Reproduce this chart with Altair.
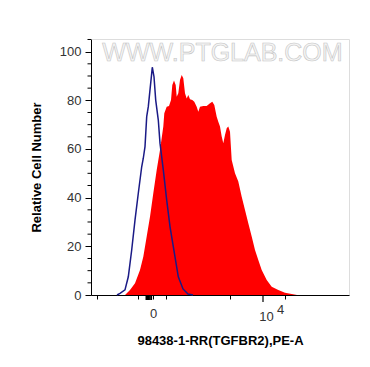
import altair as alt
import pandas as pd

# blue control histogram (display channel units, relative cell number)
blue_x = [26, 29, 34, 37.3, 40.7, 44, 47.3, 50.7, 52.3, 54, 55.7, 57.3, 59, 60.7, 61.3, 63, 64.7, 67.3, 69, 72.3, 75.7, 79, 84, 87.3, 92, 97, 102]
blue_y = [0, 0.7, 2.1, 7.5, 18.5, 30.8, 41.8, 52.7, 56.2, 61, 73.3, 77.4, 84.3, 91.1, 93.6, 89.7, 80.1, 71.9, 62.4, 51.4, 39, 28.1, 15.7, 7.5, 2.5, 0.4, 0]

# red stained histogram
red_x = [34, 39, 44, 49, 52.3, 55.7, 59, 62.3, 65.7, 69, 72.3, 73.3, 75.7, 78, 80, 81.3, 83, 84.7, 85.7, 87.3, 89, 90.7, 92.3, 94, 95.7, 97.3, 99, 101.3, 103.3, 105.7, 107.3, 109, 112.3, 115.7, 119, 121.3, 123.3, 125.7, 127.3, 129, 130.7, 132.3, 134, 135.7, 137.3, 139, 140.7, 144, 147.3, 150.7, 154, 157.3, 160.7, 164, 167.3, 170.7, 175.7, 180.7, 187.3, 194, 200.7, 206]
red_y = [0, 2.1, 4.8, 10.3, 15.7, 24, 32.2, 41.8, 51.4, 59.6, 69.2, 74.7, 77.4, 77.7, 80.1, 86.3, 88.1, 86.3, 81.5, 82.9, 88.4, 90.4, 89.1, 82.9, 80.8, 82.2, 80.4, 80.1, 79.4, 77.4, 75.3, 77.4, 77.7, 77.7, 78.8, 79.4, 78.1, 73.3, 71.2, 69.2, 65.1, 62.4, 65.8, 68.5, 69.2, 67.1, 55.5, 50, 46.6, 40.4, 34.9, 29.5, 24, 18.5, 14.4, 10.3, 6.2, 3.4, 2.1, 0.9, 0.4, 0]

# axis ticks
x_ticks = [6.3, 13, 22, 28.7, 39.7, 41.5, 43.3, 45, 46.8, 48.5, 50.3, 55.3, 56.5, 57.7, 58.9, 60.3,
           62, 63.7, 65.3, 67, 68.7, 70.3, 72, 73.7, 75.3, 77, 79.7, 90.3, 100.3, 110.3, 120.3, 130.3,
           139, 147.3, 154, 159, 162.3, 165.7, 172, 185.7, 194, 207.3, 220.7, 229, 239, 247.3, 254]
x_zero_block = [55.3, 56.5, 57.7, 58.9, 60.3]
x_zero = 62
x_1e4 = 172
y_major = [0, 20, 40, 60, 80, 100]
y_minor = [5, 10, 15, 25, 30, 35, 45, 50, 55, 65, 70, 75, 85, 90, 95, 105]

watermark = ["WWW.PTGLAB.COM"]
x_title = "98438-1-RR(TGFBR2),PE-A"
y_title = "Relative Cell Number"

FONT = "Arial"

blue = pd.DataFrame({"x": blue_x, "y": blue_y})
red = pd.DataFrame({"x": red_x, "y": red_y})

xscale = alt.Scale(domain=[0, 258], nice=False, zero=False)
yscale = alt.Scale(domain=[0, 105.2], nice=False)

xaxis = alt.Axis(
    title=x_title, values=x_ticks, grid=False,
    labelExpr=f"datum.value == {x_zero} ? '0' : ''",
    labelFlush=False, labelOverlap=False,
    tickSize=4, tickColor="black", domainColor="black", labelColor="#333333",
    labelFont=FONT, labelFontSize=13, labelPadding=8,
    titleFont=FONT, titleFontSize=13, titleFontWeight="bold", titleColor="black", titlePadding=14,
)
yaxis = alt.Axis(
    title=y_title, values=y_major, grid=False,
    labelOverlap=False, labelFlush=False,
    tickSize=6, tickColor="black", domainColor="black", labelColor="#333333",
    labelFont=FONT, labelFontSize=13, labelPadding=4,
    titleFont=FONT, titleFontSize=13, titleFontWeight="bold", titleColor="black", titlePadding=16,
)

area = alt.Chart(red).mark_area(color="#ff0000", opacity=1).encode(
    x=alt.X("x:Q", scale=xscale, axis=xaxis),
    y=alt.Y("y:Q", scale=yscale, axis=yaxis),
)
line = alt.Chart(blue).mark_line(color="#1a1a86", strokeWidth=1.5).encode(
    x=alt.X("x:Q", scale=xscale),
    y=alt.Y("y:Q", scale=yscale),
)
wm = alt.Chart(pd.DataFrame({"t": watermark, "x": [131.5], "y": [99.5]})).mark_text(
    font=FONT, fontSize=25, fill="#f4f4f4", stroke="#c4c4c4", strokeWidth=0.6,
    align="center", baseline="middle",
).encode(x=alt.X("x:Q", scale=xscale), y=alt.Y("y:Q", scale=yscale), text="t:N")

# minor y ticks
ymin = alt.Chart(pd.DataFrame({"y": y_minor})).mark_rule(color="black", strokeWidth=1).encode(
    y=alt.Y("y:Q", scale=yscale), x=alt.value(-3.5), x2=alt.value(0)
)
# major 10^4 tick and thick zero-block ticks
xmaj = alt.Chart(pd.DataFrame({"x": [x_1e4]})).mark_rule(color="black", strokeWidth=1.2).encode(
    x=alt.X("x:Q", scale=xscale), y=alt.value(256), y2=alt.value(263)
)
xblk = alt.Chart(pd.DataFrame({"x": x_zero_block})).mark_rule(color="black", strokeWidth=1.6).encode(
    x=alt.X("x:Q", scale=xscale), y=alt.value(256), y2=alt.value(261)
)

lab10 = alt.Chart(pd.DataFrame({"t": ["10"], "x": [175.5]})).mark_text(
    font=FONT, fontSize=13, color="#333333", align="center", baseline="middle",
).encode(x=alt.X("x:Q", scale=xscale), y=alt.value(278), text="t:N")
sup = alt.Chart(pd.DataFrame({"t": ["4"], "x": [189.5]})).mark_text(
    font=FONT, fontSize=13, color="#333333", align="center", baseline="middle",
).encode(x=alt.X("x:Q", scale=xscale), y=alt.value(271), text="t:N")

chart = alt.layer(wm, area, line, ymin, xmaj, xblk, lab10, sup).properties(
    width=258, height=256,
    autosize=alt.AutoSizeParams(type="none"),
    padding={"left": 83, "top": 31, "right": 13, "bottom": 64},
).configure_view(stroke="black", strokeWidth=1).configure(background="white")

chart.save("out.html", embed_options={"renderer": "svg", "actions": False})
